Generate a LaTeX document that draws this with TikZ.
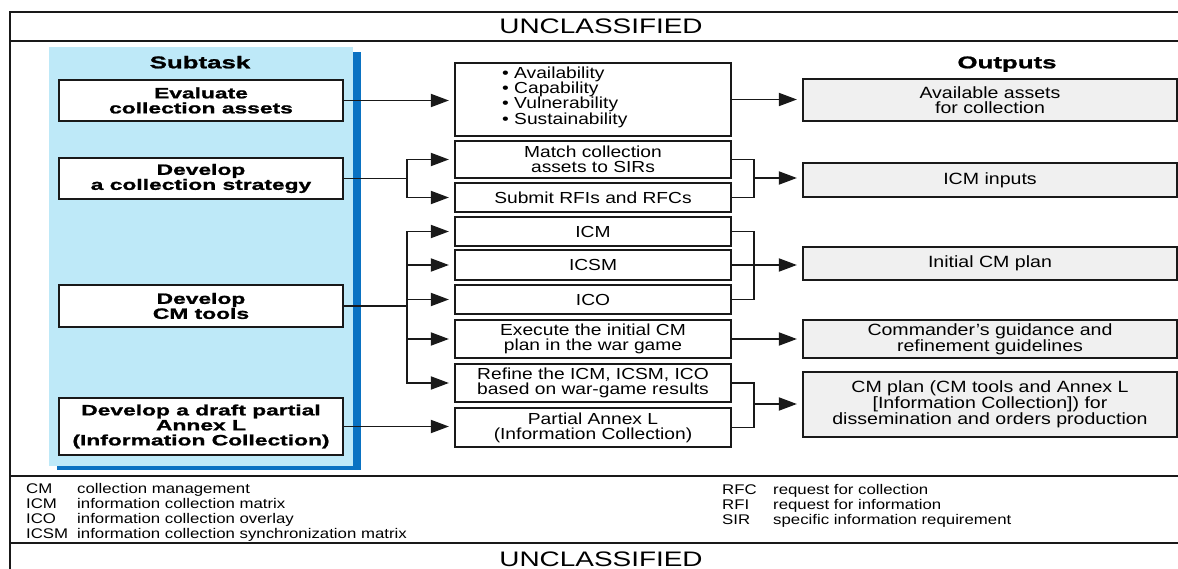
\documentclass[tikz,border=0pt]{standalone}
\usepackage{fontspec}
\setmainfont{Liberation Sans}
\newfontfamily\rgf[FakeStretch=1.2]{Liberation Sans}
\newfontfamily\bdf[FakeStretch=1.52,FakeBold=1.2]{Liberation Sans}
\newfontfamily\ucf[FakeStretch=1.33]{Liberation Sans}
\usetikzlibrary{arrows.meta}
\definecolor{panelblue}{RGB}{190,233,248}
\definecolor{shadeblue}{RGB}{10,114,194}
\definecolor{outgray}{RGB}{240,240,240}
\definecolor{ink}{RGB}{25,25,25}
\begin{document}
\begin{tikzpicture}[x=1pt,y=-1pt,
  frame/.style={draw=ink, line width=2pt},
  sbox/.style={draw=ink, line width=2.2pt, fill=white, minimum width=284pt, align=center, inner sep=1pt,
    font=\bdf\bfseries\fontsize{15}{15}\selectfont},
  mbox/.style={draw=ink, line width=2.2pt, fill=white, minimum width=276pt, align=center, inner sep=1pt,
    font=\rgf\fontsize{16}{15}\selectfont},
  obox/.style={draw=ink, line width=2.2pt, fill=outgray, minimum width=374pt, align=center, inner sep=1pt,
    font=\rgf\fontsize{16.3}{15}\selectfont},
  head/.style={font=\bdf\bfseries\fontsize{17}{17}\selectfont, inner sep=0pt, anchor=base},
  banner/.style={font=\ucf\fontsize{21}{21}\selectfont, inner sep=0pt, anchor=base},
  leg/.style={font=\rgf\fontsize{14}{15}\selectfont, inner sep=0pt, anchor=base west},
  conn/.style={draw=ink, line width=1.8pt},
  arr/.style={conn, -{Triangle[length=18pt,width=13pt]}, shorten >=5pt}
]
\useasboundingbox (0,0) rectangle (1178,569);

% frame
\draw[frame] (10,571) -- (10,12) -- (1180,12);
\draw[frame] (10,41) -- (1180,41);
\draw[frame] (10,476) -- (1180,476);
\draw[frame] (10,543) -- (1180,543);
\node[banner] (uc1) at (601,34) {UNCLASSIFIED};
\node[banner] (uc2) at (601,566) {UNCLASSIFIED};

% subtask panel
\fill[shadeblue] (57,52) rectangle (361,470);
\fill[panelblue] (49,47) rectangle (353,466);
\node[head] (subtask) at (200,68.3) {Subtask};
\node[head] (outputs) at (1007,68.3) {Outputs};

% subtask boxes
\node[sbox, minimum height=41pt] (b1) at (201,100.5) {Evaluate\\collection assets};
\node[sbox, minimum height=41pt] (b2) at (201,178.5) {Develop\\a collection strategy};
\node[sbox, minimum height=42pt] (b3) at (201,306) {Develop\\CM tools};
\node[sbox, minimum height=57pt] (b4) at (201,426.5) {Develop a draft partial\\Annex L\\(Information Collection)};

% middle boxes
\node[mbox, minimum height=73pt] (m1) at (593,99.5) {};
\node[font=\rgf\fontsize{16}{15.3}\selectfont, align=left, anchor=west, inner sep=0pt] (m1t) at (502,97)
  {\textbullet\ Availability\\\textbullet\ Capability\\\textbullet\ Vulnerability\\\textbullet\ Sustainability};
\node[mbox, minimum height=37pt] (m2) at (593,159.5) {Match collection\\assets to SIRs};
\node[mbox, minimum height=29pt] (m3) at (593,197.5) {Submit RFIs and RFCs};
\node[mbox, minimum height=29pt] (m4) at (593,231.5) {ICM};
\node[mbox, minimum height=30pt] (m5) at (593,265) {ICSM};
\node[mbox, minimum height=29pt] (m6) at (593,299.5) {ICO};
\node[mbox, minimum height=38pt] (m7) at (593,339) {Execute the initial CM\\plan in the war game};
\node[mbox, minimum height=38pt] (m8) at (593,383) {Refine the ICM, ICSM, ICO\\based on war-game results};
\node[mbox, minimum height=39pt] (m9) at (593,427.5) {Partial Annex L\\(Information Collection)};

% output boxes
\node[obox, minimum height=42pt] (o1) at (990,100) {Available assets\\for collection};
\node[obox, minimum height=34pt] (o2) at (990,180) {ICM inputs};
\node[obox, minimum height=33pt] (o3) at (990,263.5) {Initial CM plan};
\node[obox, minimum height=38pt] (o4) at (990,339) {Commander’s guidance and\\refinement guidelines};
\node[obox, minimum height=65pt] (o5) at (990,404.5) {CM plan (CM tools and Annex L\\{[}Information Collection{]}) for\\dissemination and orders production};

% junctions
\coordinate (j2) at (407,178.5);
\coordinate (j3) at (407,306);
\coordinate (k2) at (754,178);
\coordinate (k3) at (754,265);
\coordinate (k5) at (754,404);

% left-to-middle connectors
\draw[arr] (b1.east) -- (b1.east -| m1.west);
\draw[conn] (b2.east) -- (j2);
\draw[arr] (j2) |- (m2.west);
\draw[arr] (j2) |- (m3.west);
\draw[conn] (b3.east) -- (j3);
\draw[arr] (j3) |- (m4.west);
\draw[arr] (j3) |- (m5.west);
\draw[arr] (j3) |- (m6.west);
\draw[arr] (j3) |- (m7.west);
\draw[arr] (j3) |- (m8.west);
\draw[arr] (b4.east) -- (b4.east -| m9.west);

% middle-to-output connectors
\draw[arr] (m1.east) -- (m1.east -| o1.west);
\draw[conn] (m2.east) -| (k2);
\draw[conn] (m3.east) -| (k2);
\draw[arr] (k2) -- (k2 -| o2.west);
\draw[conn] (m4.east) -| (k3);
\draw[conn] (m6.east) -| (k3);
\draw[arr] (m5.east) -- (m5.east -| o3.west);
\draw[arr] (m7.east) -- (m7.east -| o4.west);
\draw[conn] (m8.east) -| (k5);
\draw[conn] (m9.east) -| (k5);
\draw[arr] (k5) -- (k5 -| o5.west);

% legend
\node[leg] (lcm) at (26,493) {CM};
\node[leg] (licm) at (26,508) {ICM};
\node[leg] (lico) at (26,523) {ICO};
\node[leg] (licsm) at (26,538) {ICSM};
\node[leg] (dcm) at (77,493) {collection management};
\node[leg] (dicm) at (77,508) {information collection matrix};
\node[leg] (dico) at (77,523) {information collection overlay};
\node[leg] (dicsm) at (77,538) {information collection synchronization matrix};
\node[leg] (lrfc) at (722,494) {RFC};
\node[leg] (lrfi) at (722,509) {RFI};
\node[leg] (lsir) at (722,524) {SIR};
\node[leg] (drfc) at (773,494) {request for collection};
\node[leg] (drfi) at (773,509) {request for information};
\node[leg] (dsir) at (773,524) {specific information requirement};
\end{tikzpicture}
\end{document}
